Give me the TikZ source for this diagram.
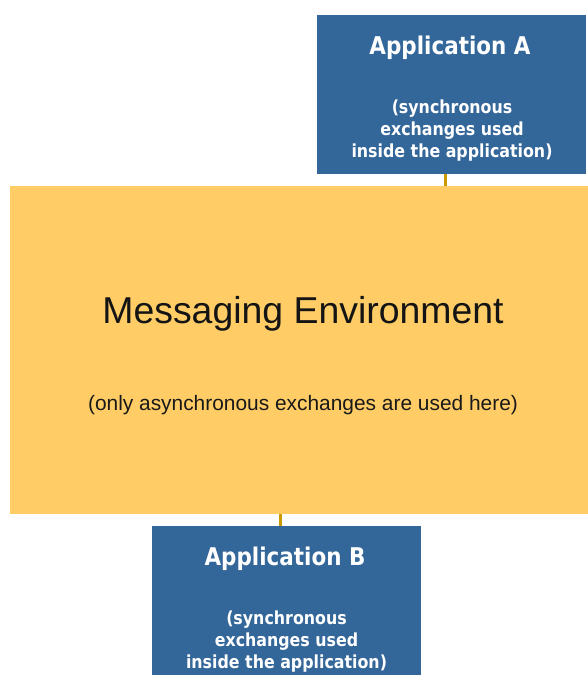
\documentclass[tikz,border=0pt]{standalone}
\usepackage{fontspec}
\setmainfont{Liberation Sans}
\newfontfamily\boxfont[FakeStretch=0.88]{DejaVu Sans}
\definecolor{appblue}{RGB}{51,102,153}
\definecolor{envyellow}{RGB}{255,204,102}
\definecolor{linkgold}{RGB}{204,153,0}
\begin{document}
\begin{tikzpicture}[x=1pt,y=-1pt,
  appbox/.style={rectangle,fill=appblue,draw=none,inner sep=0pt,anchor=north west},
  envbox/.style={rectangle,fill=envyellow,draw=none,inner sep=0pt,anchor=north west},
  apptitle/.style={anchor=base,inner sep=0pt,text=white,font=\boxfont\bfseries\fontsize{24.4}{29}\selectfont},
  appnote/.style={anchor=base,inner sep=0pt,text=white,font=\boxfont\bfseries\fontsize{18}{22}\selectfont},
  envtitle/.style={anchor=base,inner sep=0pt,text=black!92,font=\fontsize{37.4}{45}\selectfont},
  envnote/.style={anchor=base,inner sep=0pt,text=black!90,font=\fontsize{20.9}{25}\selectfont},
  link/.style={draw=linkgold,line width=3pt}]
\useasboundingbox (0,0) rectangle (588,675);
\clip (0,0) rectangle (588,675);
\fill[white] (0,0) rectangle (588,675);
% boxes
\node[appbox,minimum width=269pt,minimum height=159pt] (A) at (317,15) {};
\node[envbox,minimum width=590pt,minimum height=328pt] (M) at (10,186) {};
\node[appbox,minimum width=269pt,minimum height=170pt] (B) at (152,526) {};
% connectors
\coordinate (ca) at (445.5,174);
\coordinate (cb) at (280,514);
\draw[link] (ca) -- (ca |- M.north);
\draw[link] (cb) -- (cb |- B.north);
% texts of A
\node[apptitle] (ta) at (450,54.3) {Application A};
\node[appnote] (ta1) at (452,113) {(synchronous};
\node[appnote] (ta2) at (452,135) {exchanges used};
\node[appnote] (ta3) at (452,157) {inside the application)};
% texts of M
\node[envtitle] (tm) at (303,323.3) {Messaging Environment};
\node[envnote] (tm1) at (303,410) {(only asynchronous exchanges are used here)};
% texts of B
\node[apptitle] (tb) at (285,565.3) {Application B};
\node[appnote] (tb1) at (286.5,624) {(synchronous};
\node[appnote] (tb2) at (286.5,646) {exchanges used};
\node[appnote] (tb3) at (286.5,668) {inside the application)};
\end{tikzpicture}
\end{document}
